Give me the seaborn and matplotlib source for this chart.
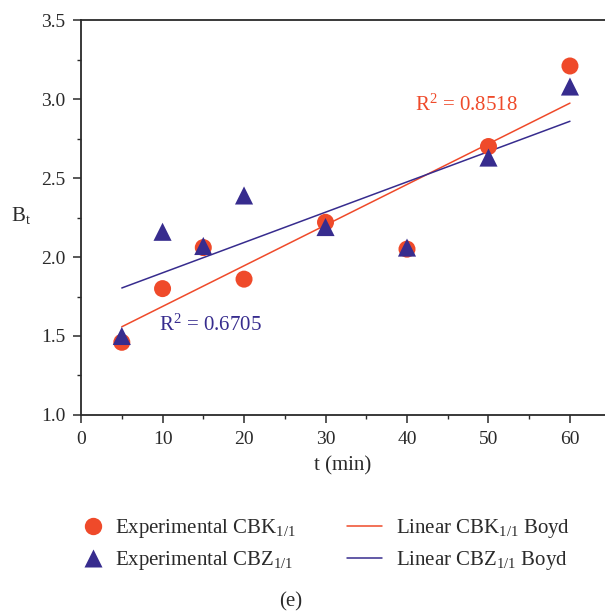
import matplotlib
matplotlib.use("Agg")
import matplotlib.pyplot as plt
import seaborn as sns
import pandas as pd
from matplotlib.lines import Line2D

t_min = [5, 10, 15, 20, 30, 40, 50, 60]
bt_cbk = [1.46, 1.80, 2.06, 1.86, 2.22, 2.05, 2.70, 3.21]
bt_cbz = [1.50, 2.16, 2.07, 2.39, 2.19, 2.06, 2.63, 3.08]
r2_cbk = "0.8518"
r2_cbz = "0.6705"
xticks = [0, 10, 20, 30, 40, 50, 60]
yticks = [1.0, 1.5, 2.0, 2.5, 3.0, 3.5]

red = "#EF4A2A"
blue = "#372C8E"
ink = "#2a2a2a"

sns.set_theme(style="ticks")
plt.rcParams["font.family"] = ["Liberation Serif", "DejaVu Serif"]
plt.rcParams["mathtext.fontset"] = "custom"
plt.rcParams["mathtext.rm"] = "Liberation Serif"
plt.rcParams["mathtext.it"] = "Liberation Serif:italic"

df = pd.DataFrame({"t": t_min, "cbk": bt_cbk, "cbz": bt_cbz})

fig = plt.figure(figsize=(6.05, 6.12), dpi=100)
ax = fig.add_axes([0.134, 0.322, 0.866, 0.645])

sns.regplot(data=df, x="t", y="cbk", scatter=False, ci=None, ax=ax,
            line_kws=dict(color=red, lw=1.1))
sns.regplot(data=df, x="t", y="cbz", scatter=False, ci=None, ax=ax,
            line_kws=dict(color=blue, lw=1.1))
sns.scatterplot(data=df, x="t", y="cbk", ax=ax, color=red, marker="o",
                s=150, edgecolor="none", zorder=3)
sns.scatterplot(data=df, x="t", y="cbz", ax=ax, color=blue, marker="^",
                s=170, edgecolor="none", zorder=4)

ax.set_xlim(0, 64.3)
ax.set_ylim(1.0, 3.5)
ax.set_xticks(xticks)
ax.set_yticks(yticks)
ax.set_yticklabels([f"{v:.1f}" for v in yticks])
ax.set_xticks([5, 15, 25, 35, 45, 55], minor=True)
ax.set_yticks([1.25, 1.75, 2.25, 2.75, 3.25], minor=True)
ax.tick_params(axis="both", which="major", labelsize=14, length=5.5, width=1.1,
               direction="out", colors=ink, pad=6)
ax.tick_params(axis="both", which="minor", length=2.8, width=1.0, direction="out",
               colors=ink)
ax.tick_params(axis="both", labelcolor=ink)
for s in ["left", "bottom", "top"]:
    ax.spines[s].set_linewidth(1.3)
    ax.spines[s].set_color(ink)
ax.spines["right"].set_visible(False)

ax.set_xlabel("t (min)", fontsize=15, color=ink, labelpad=6)
ax.set_ylabel(r"B$_\mathrm{t}$", fontsize=15, color=ink, rotation=0,
              va="center", ha="center")
ax.yaxis.set_label_coords(-0.115, 0.505)

ax.text(41.0, 2.96, r"R$^2$ = " + r2_cbk, color=red, fontsize=15,
        ha="left", va="center")
ax.text(9.6, 1.57, r"R$^2$ = " + r2_cbz, color=blue, fontsize=15,
        ha="left", va="center")

marker_handles = [
    Line2D([], [], ls="none", marker="o", ms=12.5, color=red, mec="none"),
    Line2D([], [], ls="none", marker="^", ms=13.5, color=blue, mec="none"),
]
marker_labels = [
    r"Experimental CBK$_{\mathrm{1/1}}$",
    r"Experimental CBZ$_{\mathrm{1/1}}$",
]
line_handles = [
    Line2D([], [], color=red, lw=1.1),
    Line2D([], [], color=blue, lw=1.1),
]
line_labels = [
    r"Linear CBK$_{\mathrm{1/1}}$ Boyd",
    r"Linear CBZ$_{\mathrm{1/1}}$ Boyd",
]
leg1 = fig.legend(marker_handles, marker_labels, loc="upper left",
                  bbox_to_anchor=(82.6 / 605, 1 - 517 / 612), frameon=False,
                  fontsize=15, handlelength=1.0, handletextpad=0.56,
                  labelspacing=0.45, borderaxespad=0, borderpad=0)
leg2 = fig.legend(line_handles, line_labels, loc="upper left",
                  bbox_to_anchor=(347 / 605, 1 - 517 / 612), frameon=False,
                  fontsize=15, handlelength=1.68, handletextpad=0.67,
                  labelspacing=0.45, borderaxespad=0, borderpad=0)
for lg in (leg1, leg2):
    for txt in lg.get_texts():
        txt.set_color(ink)

fig.text(0.481, 0.017, "(e)", fontsize=15, ha="center", va="center", color=ink)

fig.savefig("out.png", dpi=100)
